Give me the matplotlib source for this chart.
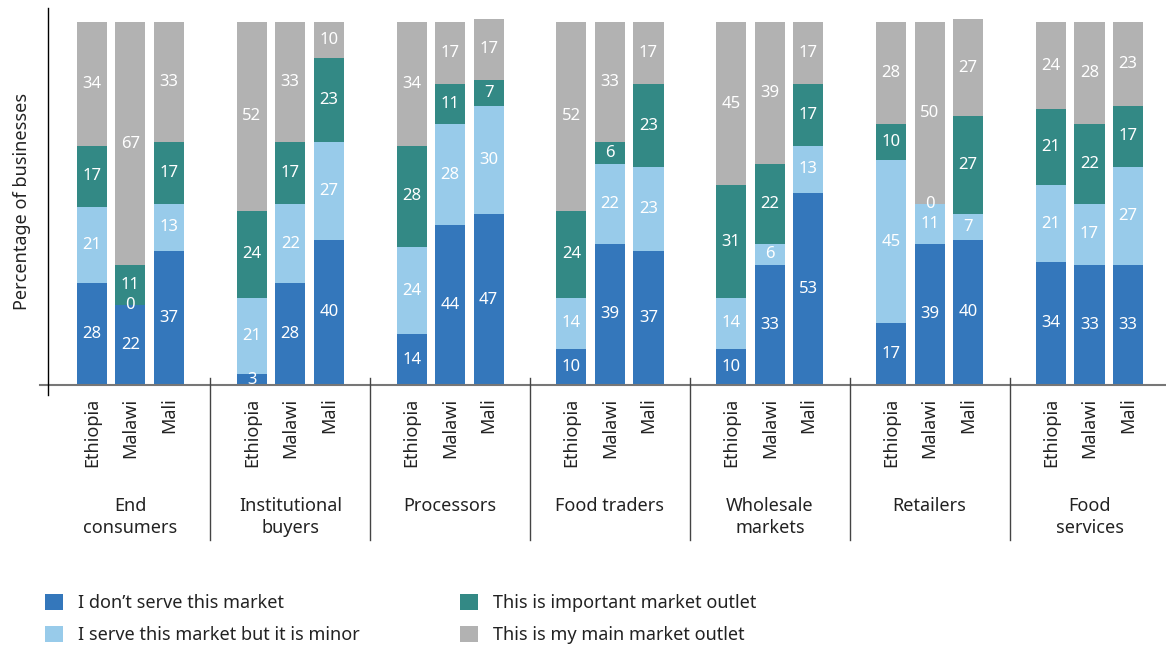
import matplotlib
matplotlib.use("Agg")
import matplotlib.pyplot as plt
import matplotlib.transforms as mtransforms
from matplotlib.patches import Patch

plt.rcParams['font.family'] = ['Noto Sans', 'DejaVu Sans']

groups = ['End\nconsumers', 'Institutional\nbuyers', 'Processors', 'Food traders',
          'Wholesale\nmarkets', 'Retailers', 'Food\nservices']
countries = ['Ethiopia', 'Malawi', 'Mali']

series_names = ['I don\u2019t serve this market', 'I serve this market but it is minor',
                'This is important market outlet', 'This is my main market outlet']
colors = ['#3477bb', '#98cbea', '#338985', '#b2b2b2']

# values per group, ordered Ethiopia, Malawi, Mali
dont_serve = [[28, 22, 37], [3, 28, 40], [14, 44, 47], [10, 39, 37],
              [10, 33, 53], [17, 39, 40], [34, 33, 33]]
minor = [[21, 0, 13], [21, 22, 27], [24, 28, 30], [14, 22, 23],
         [14, 6, 13], [45, 11, 7], [21, 17, 27]]
important = [[17, 11, 17], [24, 17, 23], [28, 11, 7], [24, 6, 23],
             [31, 22, 17], [10, 0, 27], [21, 22, 17]]
main = [[34, 67, 33], [52, 33, 10], [34, 17, 17], [52, 33, 17],
        [45, 39, 17], [28, 50, 27], [24, 28, 23]]

series = [dont_serve, minor, important, main]

W, H = 1166, 648
fig = plt.figure(figsize=(W / 100, H / 100), dpi=100)
ax = fig.add_axes([48 / W, 1 - 395 / H, 1117 / W, 387 / H])

gstep = 4.15
width = 0.78

xs = []
for g in range(len(groups)):
    for j in range(len(countries)):
        xs.append(g * gstep + j)
bottoms = [0] * len(xs)

for s, vals in enumerate(series):
    flat = [v for grp in vals for v in grp]
    ax.bar(xs, flat, width=width, bottom=bottoms, color=colors[s], label=series_names[s])
    for x, b, v in zip(xs, bottoms, flat):
        ax.text(x, b + v / 2, str(v), ha='center', va='center', color='white', fontsize=12)
    bottoms = [b + v for b, v in zip(bottoms, flat)]

ax.set_xlim(-1.14, (len(groups) - 1) * gstep + 2 + 0.96)
ax.set_ylim(-2.75, 103.9)
for sp in ['top', 'right', 'bottom']:
    ax.spines[sp].set_visible(False)
ax.spines['left'].set_color('black')
ax.spines['left'].set_linewidth(1)
ax.set_xticks([])
ax.set_yticks([])
ax.set_ylabel('Percentage of businesses', fontsize=13, color='#222222', labelpad=12)

# baseline
ax.plot([-0.0072, 1], [0, 0], color='#777777', lw=1.5,
        transform=mtransforms.blended_transform_factory(ax.transAxes, ax.transData),
        clip_on=False)

trans = mtransforms.blended_transform_factory(ax.transData, ax.transAxes)
for i, x in enumerate(xs):
    ax.text(x, -0.007, countries[i % 3], rotation=90, ha='center', va='top',
            fontsize=13, color='#222222', transform=trans)

for g, name in enumerate(groups):
    ax.text(g * gstep + 1, -0.263, name, ha='center', va='top', fontsize=13,
            color='#222222', transform=trans, linespacing=1.3)
    if g > 0:
        sx = g * gstep - (gstep - 2) / 2
        ax.plot([sx, sx], [0.044, -0.375], color='#444444', lw=1,
                transform=trans, clip_on=False)

handles = [Patch(facecolor=c) for c in colors]
leg_kw = dict(frameon=False, fontsize=13, handlelength=1.0, handleheight=1.0,
              handletextpad=0.85, labelspacing=0.75, borderpad=0, borderaxespad=0,
              loc='upper left', labelcolor='#222222')
fig.legend(handles[:2], series_names[:2], bbox_to_anchor=(45 / W, 1 - 594 / H), **leg_kw)
fig.legend(handles[2:], series_names[2:], bbox_to_anchor=(460 / W, 1 - 594 / H), **leg_kw)

fig.savefig('out.png', dpi=100)
